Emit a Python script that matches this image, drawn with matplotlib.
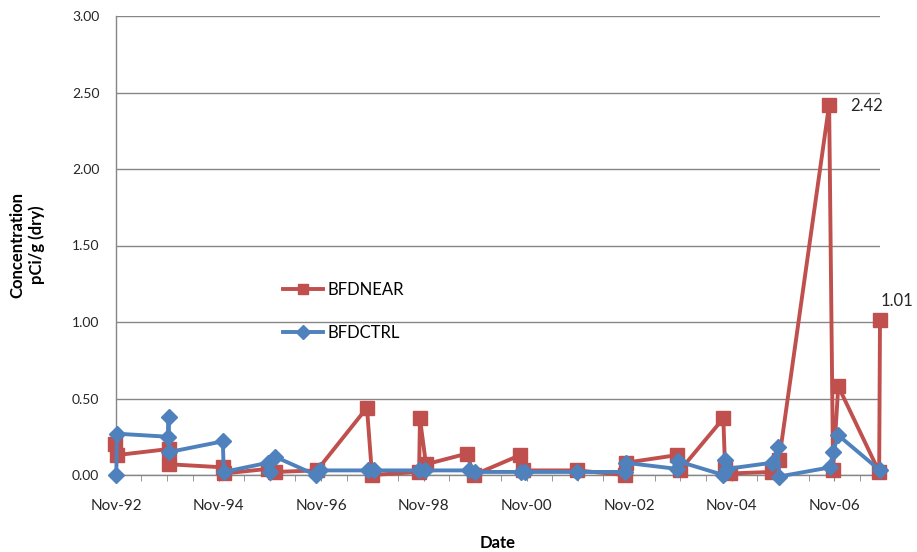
import matplotlib
matplotlib.use("Agg")
import matplotlib.pyplot as plt
import matplotlib.dates as mdates
import matplotlib.ticker as mticker
import pandas as pd

plt.rcParams['font.family'] = ['Lato', 'DejaVu Sans']

# ---- data ----
near_dates = ["1992-10-28", "1992-11-06", "1993-11-13", "1993-11-15", "1994-12-05",
              "1994-12-10", "1995-10-18", "1995-12-06", "1996-10-01", "1997-09-22",
              "1997-10-28", "1998-09-28", "1998-10-04", "1998-11-16", "1999-09-04",
              "1999-10-22", "2000-09-16", "2000-10-06", "2001-10-25", "2002-10-04",
              "2002-10-06", "2003-10-07", "2003-10-28", "2004-09-01", "2004-09-13",
              "2004-10-18", "2005-08-13", "2005-10-03", "2006-09-24", "2006-10-22",
              "2006-11-28", "2007-09-15", "2007-09-21"]
near_vals = [0.20, 0.13, 0.17, 0.07, 0.05,
             0.01, 0.04, 0.02, 0.03, 0.44,
             0.00, 0.02, 0.37, 0.07, 0.14,
             0.00, 0.13, 0.03, 0.03, 0.00,
             0.08, 0.13, 0.03, 0.37, 0.06,
             0.01, 0.02, 0.10, 2.42, 0.03,
             0.58, 0.02, 1.01]

ctrl_dates = ["1992-11-03", "1992-11-08", "1993-11-06", "1993-11-10", "1993-11-14",
              "1994-12-01", "1994-12-08", "1995-10-18", "1995-11-01", "1995-12-06",
              "1996-09-24", "1996-10-22", "1997-09-28", "1997-11-10", "1998-09-28",
              "1998-11-10", "1999-09-18", "1999-11-01", "2000-09-22", "2000-10-21",
              "2001-10-25", "2002-10-02", "2002-10-06", "2003-10-07", "2003-10-14",
              "2004-09-01", "2004-09-13", "2004-09-25", "2005-08-13", "2005-09-25",
              "2005-10-03", "2006-10-01", "2006-10-22", "2006-11-28", "2007-09-21"]
ctrl_vals = [0.00, 0.27, 0.25, 0.38, 0.15,
             0.22, 0.02, 0.08, 0.02, 0.12,
             0.00, 0.03, 0.03, 0.03, 0.03,
             0.03, 0.03, 0.02, 0.02, 0.02,
             0.02, 0.02, 0.08, 0.04, 0.09,
             0.00, 0.10, 0.04, 0.08, 0.18,
             -0.01, 0.05, 0.15, 0.26, 0.03]

series_names = ["BFDNEAR", "BFDCTRL"]
x_tick_labels = ["Nov-92", "Nov-94", "Nov-96", "Nov-98", "Nov-00", "Nov-02", "Nov-04", "Nov-06"]
y_ticks = [0.0, 0.5, 1.0, 1.5, 2.0, 2.5, 3.0]
annotated = [("2006-09-24", 2.42, "2.42"), ("2007-09-21", 1.01, "1.01")]

RED = "#C0504D"
BLUE = "#4F81BD"
GRID = "#868686"

W, H = 917, 552
fig = plt.figure(figsize=(W / 100, H / 100), dpi=100)
ax = fig.add_axes([116 / W, 1 - 475 / H, (880 - 116) / W, (475 - 16) / H])

nd = pd.to_datetime(near_dates)
cd = pd.to_datetime(ctrl_dates)

ax.plot(nd, near_vals, color=RED, lw=2.8, marker="s", ms=10, mec=RED, mfc=RED,
        label=series_names[0], zorder=3, clip_on=False)
ax.plot(cd, ctrl_vals, color=BLUE, lw=2.8, marker="D", ms=8.5, mec=BLUE, mfc=BLUE,
        label=series_names[1], zorder=4, clip_on=False)

for d, v, t in annotated:
    dd = pd.to_datetime(d)
    if t == "2.42":
        ax.annotate(t, (dd, v), xytext=(15, -1), textcoords="offset points",
                    ha="left", va="center", fontsize=12, color="#262626")
    else:
        ax.annotate(t, (dd, v), xytext=(12, 8), textcoords="offset points",
                    ha="center", va="bottom", fontsize=12, color="#262626")

# axes limits
ax.set_xlim(pd.Timestamp("1992-11-01"), pd.Timestamp("2007-09-21"))
ax.set_ylim(0, 3.0)

# x ticks
major = [pd.Timestamp(f"{1992 + 2 * i}-11-01") for i in range(len(x_tick_labels))]
ax.xaxis.set_major_locator(mticker.FixedLocator(mdates.date2num(major)))
ax.xaxis.set_major_formatter(mticker.FixedFormatter(x_tick_labels))
ax.xaxis.set_minor_locator(mdates.MonthLocator(bymonth=[5, 11]))
ax.tick_params(axis="x", which="both", direction="out", length=4, color=GRID,
               labelsize=11, pad=13, labelcolor="#262626")

# y ticks
ax.set_yticks(y_ticks)
ax.yaxis.set_major_formatter(mticker.FormatStrFormatter("%.2f"))
ax.tick_params(axis="y", length=0, pad=12, labelsize=10, labelcolor="#262626")

ax.grid(axis="y", color=GRID, lw=1)
ax.set_axisbelow(True)
for s in ["top", "right"]:
    ax.spines[s].set_visible(False)
for s in ["left", "bottom"]:
    ax.spines[s].set_color(GRID)
    ax.spines[s].set_linewidth(1)

fig.text(27 / W, 1 - 245 / H, "Concentration\npCi/g (dry)", rotation=90,
         ha="center", va="center", fontsize=12, fontweight="bold", multialignment="center")
fig.text(498 / W, 1 - 543 / H, "Date", ha="center", va="center", fontsize=12,
         fontweight="bold")

leg = ax.legend(loc="center left", bbox_to_anchor=(276 / W, 1 - 311.5 / H),
                bbox_transform=fig.transFigure, frameon=False, fontsize=12,
                handlelength=2.4, handletextpad=0.3, labelspacing=1.6,
                borderaxespad=0, borderpad=0.4)
for h in leg.legend_handles:
    h.set_markersize(7.5)

fig.savefig("out.png", dpi=100)
